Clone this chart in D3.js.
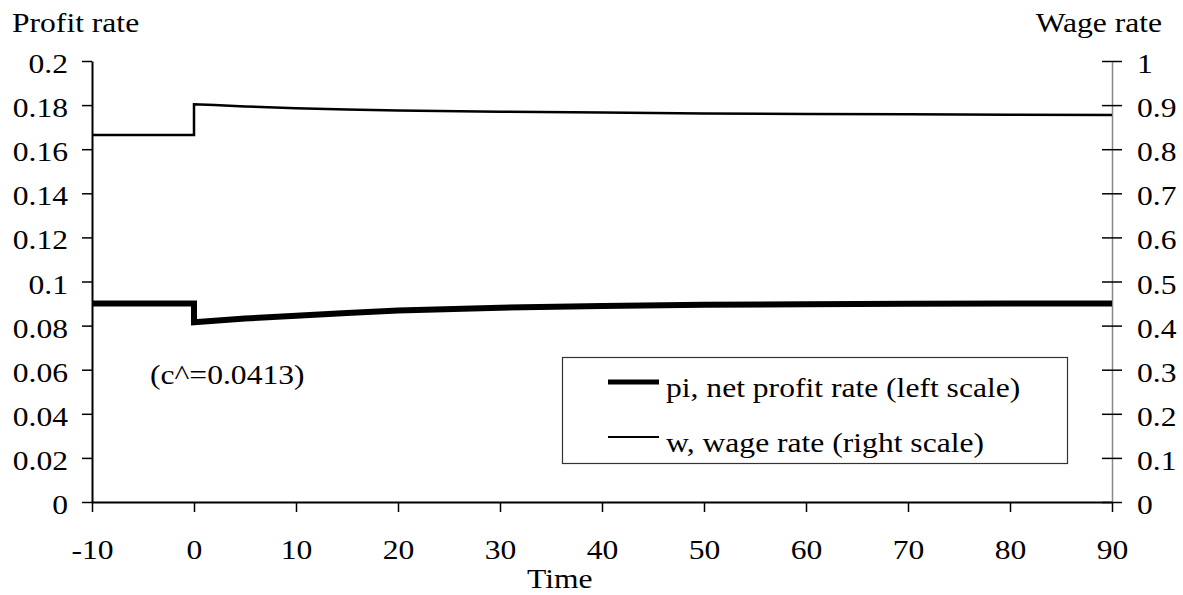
<!DOCTYPE html>
<html>
<head>
<meta charset="utf-8">
<script src="https://cdn.jsdelivr.net/npm/d3@7"></script>
<style>
  html, body { margin: 0; padding: 0; background: #fff; }
  svg { display: block; }
  text { font-family: "Liberation Serif", "Times New Roman", serif; font-size: 27px; fill: #000; }
</style>
</head>
<body>
<svg id="chart" width="1183" height="595"></svg>
<script>
// ---- data ----
const times = [-10, 0, 0, 2, 5, 10, 15, 20, 30, 40, 50, 60, 70, 80, 90];
const profitRate = [0.090, 0.090, 0.0815, 0.0822, 0.0832, 0.0845, 0.0857, 0.0868, 0.0881, 0.0889, 0.0894, 0.0897, 0.0899, 0.0900, 0.0900];
const wageRate = [0.832, 0.832, 0.902, 0.900, 0.897, 0.893, 0.890, 0.888, 0.885, 0.883, 0.881, 0.880, 0.879, 0.878, 0.8775];
const xTicks = [-10, 0, 10, 20, 30, 40, 50, 60, 70, 80, 90];
const leftTicks = [0, 0.02, 0.04, 0.06, 0.08, 0.1, 0.12, 0.14, 0.16, 0.18, 0.2];
const leftTickLabels = ["0", "0.02", "0.04", "0.06", "0.08", "0.1", "0.12", "0.14", "0.16", "0.18", "0.2"];
const rightTicks = [0, 0.1, 0.2, 0.3, 0.4, 0.5, 0.6, 0.7, 0.8, 0.9, 1];
const rightTickLabels = ["0", "0.1", "0.2", "0.3", "0.4", "0.5", "0.6", "0.7", "0.8", "0.9", "1"];
const legendLabels = ["pi, net profit rate (left scale)", "w, wage rate (right scale)"];
const annotation = "(c^=0.0413)";

// ---- layout ----
const SX = 1.17; // horizontal stretch of the text in the reference
const L = 92, R = 1112, T = 61, B = 502;
const svg = d3.select("#chart");

const x = d3.scaleLinear().domain([-10, 90]).range([L, R]);
const yL = d3.scaleLinear().domain([0, 0.2]).range([B, T]);
const yR = d3.scaleLinear().domain([0, 1]).range([B, T]);

function stretchedText(g, tx, ty, str, anchor) {
  const t = g.append("g").attr("transform", `translate(${tx},${ty}) scale(${SX},1)`);
  return t.append("text").attr("text-anchor", anchor || "start").text(str);
}

// left axis
const gL = svg.append("g").attr("transform", `translate(${L},0)`)
  .call(d3.axisLeft(yL).tickValues(leftTicks).tickSize(10).tickSizeOuter(0)
    .tickFormat((d, i) => leftTickLabels[i]));
gL.select(".domain").attr("stroke", "#000").attr("stroke-width", 2);
gL.selectAll(".tick line").attr("stroke", "#000").attr("stroke-width", 1.5);
gL.selectAll(".tick text").attr("x", null).attr("dy", null).text(null);
gL.selectAll(".tick").each(function(d, i) {
  stretchedText(d3.select(this), -24, 11.5, leftTickLabels[i], "end");
});

// right axis
const gR = svg.append("g").attr("transform", `translate(${R},0)`)
  .call(d3.axisRight(yR).tickValues(rightTicks).tickSize(10).tickSizeOuter(0)
    .tickFormat((d, i) => rightTickLabels[i]));
gR.select(".domain").attr("stroke", "#888").attr("stroke-width", 1.5);
gR.selectAll(".tick line").attr("stroke", "#000").attr("stroke-width", 1.5).attr("x1", -10).attr("x2", 10);
gR.selectAll(".tick text").text(null);
gR.selectAll(".tick").each(function(d, i) {
  stretchedText(d3.select(this), 25, 11.5, rightTickLabels[i], "start");
});

// bottom axis
const gB = svg.append("g").attr("transform", `translate(0,${B})`)
  .call(d3.axisBottom(x).tickValues(xTicks).tickSize(10).tickSizeOuter(0)
    .tickFormat(d => String(d)));
gB.select(".domain").attr("stroke", "#000").attr("stroke-width", 2);
gB.selectAll(".tick line").attr("stroke", "#000").attr("stroke-width", 1.5);
gB.selectAll(".tick text").text(null);
gB.selectAll(".tick").each(function(d) {
  stretchedText(d3.select(this), 0, 57, String(d), "middle");
});
svg.selectAll(".domain").attr("fill", "none");

// axis titles
stretchedText(svg, 12, 32, "Profit rate", "start");
stretchedText(svg, 1162, 32, "Wage rate", "end");
stretchedText(svg, 527, 588, "Time", "start");

// lines
const profitPts = times.map((t, i) => [t, profitRate[i]]);
const wagePts = times.map((t, i) => [t, wageRate[i]]);
svg.append("path").datum(profitPts)
  .attr("d", d3.line().x(d => x(d[0])).y(d => yL(d[1])))
  .attr("fill", "none").attr("stroke", "#000").attr("stroke-width", 6)
  .attr("stroke-linejoin", "miter").attr("stroke-linecap", "butt");
svg.append("path").datum(wagePts)
  .attr("d", d3.line().x(d => x(d[0])).y(d => yR(d[1])))
  .attr("fill", "none").attr("stroke", "#000").attr("stroke-width", 2.5)
  .attr("stroke-linejoin", "miter").attr("stroke-linecap", "butt");

// annotation
stretchedText(svg, 150, 384, annotation, "start");

// legend
const lg = svg.append("g");
lg.append("rect").attr("x", 562.5).attr("y", 357.5).attr("width", 505).attr("height", 106)
  .attr("fill", "#fff").attr("stroke", "#333").attr("stroke-width", 1.2);
const legendWidths = [5, 2];
const legendY = [382, 437];
legendLabels.forEach((lab, i) => {
  lg.append("line").attr("x1", 608).attr("x2", 659).attr("y1", legendY[i]).attr("y2", legendY[i])
    .attr("stroke", "#000").attr("stroke-width", legendWidths[i]);
  stretchedText(lg, 666, legendY[i] + 15, lab, "start");
});
</script>
</body>
</html>
